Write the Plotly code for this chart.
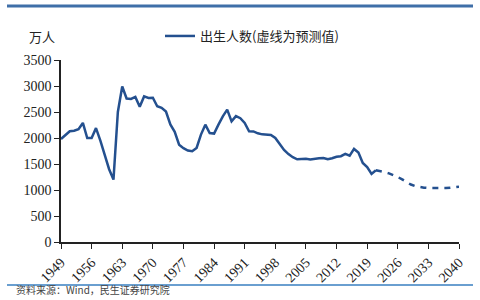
import plotly.graph_objects as go

years_actual = list(range(1949, 2022))
births_actual = [
    1980, 2060, 2130, 2140, 2170, 2290, 2000, 2000, 2190, 1950,
    1650, 1400, 1200, 2500, 2990, 2760, 2750, 2790, 2600, 2800,
    2770, 2775, 2610, 2580, 2510, 2260, 2120, 1870, 1805, 1760,
    1745, 1810, 2065, 2256, 2096, 2085, 2256, 2416, 2545, 2320,
    2420, 2380, 2290, 2130, 2127, 2090, 2070, 2065, 2060, 2000,
    1880, 1771, 1690, 1630, 1590, 1595, 1600, 1585, 1600, 1610,
    1615, 1590, 1610, 1640, 1650, 1695, 1660, 1790, 1720, 1520,
    1440, 1310, 1380,
]
years_forecast = list(range(2021, 2041))
births_forecast = [
    1380, 1365, 1345, 1320, 1290, 1250, 1205, 1150, 1105, 1075,
    1055, 1045, 1038, 1035, 1035, 1035, 1038, 1042, 1050, 1065,
]
x_ticks = list(range(1949, 2041, 7))
y_ticks = list(range(0, 3501, 500))

LINE = "#24508f"
SERIF = "Liberation Serif, Times New Roman, serif"
CJK = "Noto Sans CJK SC"

fig = go.Figure()
fig.add_trace(go.Scatter(
    x=years_actual, y=births_actual, mode="lines",
    line=dict(color=LINE, width=2.5),
    name="出生人数(虚线为预测值)",
))
fig.add_trace(go.Scatter(
    x=years_forecast, y=births_forecast, mode="lines",
    line=dict(color=LINE, width=2.5, dash="6px,6px"),
    showlegend=False,
))

fig.update_layout(
    width=480, height=300,
    margin=dict(l=61, r=21, t=60, b=58),
    paper_bgcolor="white", plot_bgcolor="white",
    font=dict(family=SERIF, size=13, color="#222"),
    legend=dict(
        x=(160 - 61) / 398, y=1 + (60 - 36) / 182, xanchor="left", yanchor="middle",
        orientation="h", bgcolor="rgba(0,0,0,0)",
        font=dict(family=CJK, size=13, color="#222"),
    ),
    xaxis=dict(
        range=[1949, 2040], tickmode="array", tickvals=x_ticks,
        ticktext=[str(v) for v in x_ticks], tickangle=-45,
        showgrid=False, zeroline=False, showline=True, linecolor="#222",
        linewidth=1.5, ticks="outside", ticklen=5, tickcolor="#222",
        tickfont=dict(family=SERIF, size=14),
    ),
    yaxis=dict(
        range=[0, 3500], tickmode="array", tickvals=y_ticks,
        showgrid=False, zeroline=False, showline=True, linecolor="#222",
        linewidth=1.5, ticks="outside", ticklen=5, tickcolor="#222",
        tickfont=dict(family=SERIF, size=14),
    ),
    shapes=[
        dict(type="line", xref="paper", yref="paper",
             x0=-54 / 398, x1=412 / 398, y0=1 + 54 / 182, y1=1 + 54 / 182,
             line=dict(color="#3f6fa8", width=3)),
        dict(type="line", xref="paper", yref="paper",
             x0=-54 / 398, x1=412 / 398, y0=-43 / 182, y1=-43 / 182,
             line=dict(color="#6a9fd0", width=2)),
    ],
    annotations=[
        dict(text="万人", xref="paper", yref="paper",
             x=-34 / 398, y=1 + (60 - 36) / 182, xanchor="left", yanchor="middle",
             showarrow=False, font=dict(family=CJK, size=13, color="#222")),
        dict(text="资料来源：Wind，民生证券研究院", xref="paper", yref="paper",
             x=-47 / 398, y=-(299 - 242) / 182, xanchor="left", yanchor="bottom",
             showarrow=False, font=dict(family=CJK, size=10, color="#444")),
    ],
)

fig.write_html("out.html")
